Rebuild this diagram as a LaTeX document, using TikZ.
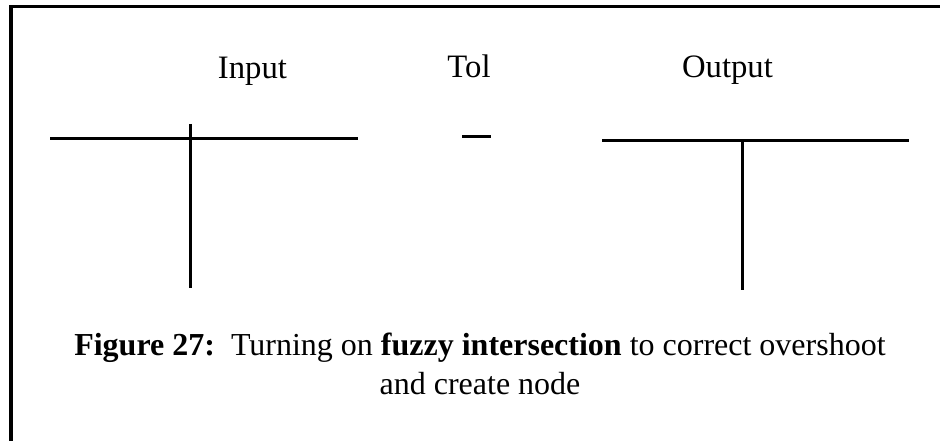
\documentclass[tikz,border=0pt]{standalone}
\usepackage{fontspec}
\setmainfont{Liberation Serif}
\begin{document}
\begin{tikzpicture}[x=1pt,y=-1pt,
  lbl/.style={font=\fontsize{32.7}{38}\selectfont,anchor=base,inner sep=0pt},
  captext/.style={font=\fontsize{32}{38}\selectfont,anchor=base,inner sep=0pt},
  seg/.style={line width=3pt,line cap=butt},
  frame/.style={line width=3.5pt}]
\useasboundingbox (0,0) rectangle (940,441);
% frame
\coordinate (fbl) at (11,441);
\coordinate (ftl) at (11,6.5);
\coordinate (ftr) at (940,6.5);
\draw[frame] (fbl) -- (ftl) -- (ftr);
% labels
\node[lbl] (input) at (252.5,79) {Input};
\node[lbl] (tol) at (469,78) {Tol};
\node[lbl] (output) at (727.5,78) {Output};
% input
\coordinate (ia) at (50,139);
\coordinate (ib) at (357.5,139);
\coordinate (ic) at (190,124);
\coordinate (id) at (190,288);
\draw[seg] (ia) -- (ib);
\draw[seg] (ic) -- (id);
% tol
\coordinate (ta) at (462,137);
\coordinate (tb) at (491,137);
\draw[seg] (ta) -- (tb);
% output
\coordinate (oa) at (602,141);
\coordinate (ob) at (909,141);
\coordinate (oc) at (742,139.5);
\coordinate (od) at (742,290);
\draw[seg] (oa) -- (ob);
\draw[seg] (oc) -- (od);
% caption
\node[captext] (cap1) at (480,355) {\textbf{Figure 27:}\hspace{0.5em}Turning on \textbf{fuzzy intersection} to correct overshoot};
\node[captext] (cap2) at (480,394) {and create node};
\end{tikzpicture}
\end{document}
